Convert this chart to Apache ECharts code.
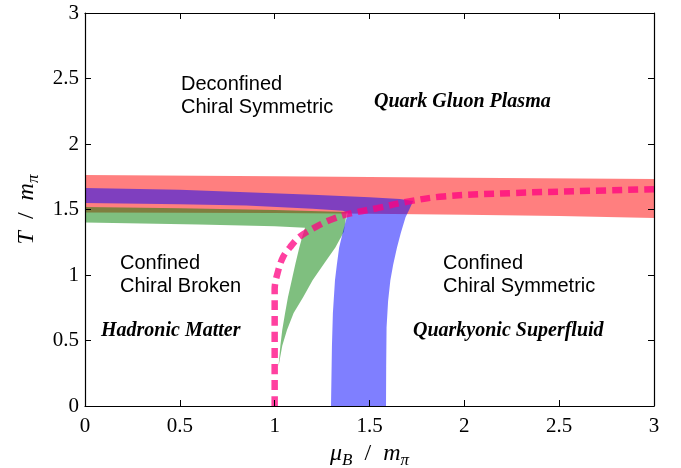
<!DOCTYPE html>
<html>
<head>
<meta charset="utf-8">
<script src="https://cdn.jsdelivr.net/npm/echarts@6/dist/echarts.min.js"></script>
<style>html,body{margin:0;padding:0;background:#fff;}#c{width:681px;height:468px;}</style>
</head>
<body>
<div id="c"></div>
<script>
// ---- data (mu_B/m_pi, T/m_pi) ----
var xTicks = [0, 0.5, 1, 1.5, 2, 2.5, 3];
var yTicks = [0, 0.5, 1, 1.5, 2, 2.5, 3];

// deconfinement band (red)
var redTop = [[0,1.763],[1,1.753],[2,1.743],[3,1.733]];
var redBottom = [[0,1.477],[1,1.473],[1.5,1.468],[2,1.46],[2.5,1.45],[3,1.435]];

// chiral band (green): outer edge (top then right side down to tip), inner edge (bottom then left side down to tip)
var greenOuter = [[0,1.52],[0.5,1.51],[1.0,1.497],[1.38,1.48],[1.365,1.33],[1.32,1.21],[1.26,1.085],[1.20,0.96],[1.15,0.83],[1.10,0.71],[1.065,0.58],[1.04,0.46],[1.02,0.30]];
var greenInner = [[0,1.40],[0.6,1.385],[1.0,1.372],[1.16,1.36],[1.145,1.29],[1.13,1.21],[1.11,1.09],[1.09,0.96],[1.07,0.83],[1.055,0.71],[1.04,0.58],[1.03,0.46],[1.02,0.30]];

// diquark condensation band (blue)
var blueOuter = [[0,1.665],[0.5,1.65],[0.85,1.632],[1.2,1.612],[1.5,1.593],[1.66,1.58],[1.73,1.565],[1.71,1.50],[1.69,1.44],[1.665,1.32],[1.645,1.21],[1.625,1.08],[1.61,0.96],[1.598,0.8],[1.59,0.6],[1.588,0.3],[1.587,0]];
var blueInner = [[0,1.55],[0.5,1.54],[0.85,1.53],[1.2,1.505],[1.36,1.49],[1.385,1.475],[1.38,1.44],[1.36,1.33],[1.34,1.21],[1.328,1.08],[1.318,0.96],[1.307,0.71],[1.302,0.46],[1.297,0]];

// dashed boundary (magenta)
var dashLine = [[1.0,0],[1.0,0.5],[1.0,0.89],[1.02,1.04],[1.045,1.14],[1.08,1.21],[1.13,1.29],[1.22,1.37],[1.31,1.43],[1.40,1.47],[1.54,1.51],[1.70,1.56],[1.89,1.60],[2.26,1.626],[2.6,1.64],[3.0,1.655]];

var regionLabels = [
  {text:'Deconfined\nChiral Symmetric', kind:'sans'},
  {text:'Quark Gluon Plasma', kind:'bold'},
  {text:'Confined\nChiral Broken', kind:'sans'},
  {text:'Hadronic Matter', kind:'bold'},
  {text:'Confined\nChiral Symmetric', kind:'sans'},
  {text:'Quarkyonic Superfluid', kind:'bold'}
];
var labelPos = [[181,73],[374,102],[120,252],[101,331],[443,252],[413,331]];

// ---- chart ----
function band(upper, lower, color, z) {
  var poly = upper.concat(lower.slice().reverse());
  return {
    type: 'custom', z: z, silent: true,
    data: poly, encode: {x: 0, y: 1},
    renderItem: function (params, api) {
      if (params.dataIndex !== 0) return null;
      return {type: 'polygon', shape: {points: poly.map(function (p) { return api.coord(p); })},
              style: {fill: color}};
    }
  };
}

var serif = '"Liberation Serif", "DejaVu Serif", serif';
var sans = '"Liberation Sans", Arial, sans-serif';
var rich = {
  i: {fontFamily: serif, fontStyle: 'italic', fontSize: 24, lineHeight: 30, color: '#000'},
  n: {fontFamily: serif, fontSize: 24, lineHeight: 30, color: '#000'},
  s: {fontFamily: serif, fontStyle: 'italic', fontSize: 17, lineHeight: 17, verticalAlign: 'bottom', color: '#000'}
};

function axisCommon(showLabel, margin) {
  return {
    min: 0, max: 3, interval: 0.5, z: 10,
    axisLine: {show: true, onZero: false, lineStyle: {color: '#000', width: 1.2}},
    axisTick: {show: true, inside: true, length: 6, lineStyle: {color: '#000', width: 1}},
    splitLine: {show: false},
    axisLabel: {show: showLabel, fontFamily: serif, fontSize: 21, color: '#000', margin: margin || 8}
  };
}

var xMain = Object.assign(axisCommon(true, 10), {type: 'value', position: 'bottom',
  name: '{i|μ}{s|B}{n|  /  }{i|m}{s|π}', nameLocation: 'middle', nameGap: 32,
  nameTextStyle: {rich: rich}});
var xTop = Object.assign(axisCommon(false), {type: 'value', position: 'top'});
var yMain = Object.assign(axisCommon(true, 6), {type: 'value', position: 'left',
  name: '{i|T}{n|  /  }{i|m}{s|π}', nameLocation: 'middle', nameGap: 28, nameRotate: 90,
  nameTextStyle: {rich: rich}});
var yRight = Object.assign(axisCommon(false), {type: 'value', position: 'right'});

var graphics = regionLabels.map(function (l, k) {
  var bold = l.kind === 'bold';
  return {
    type: 'text', left: labelPos[k][0], top: bold ? labelPos[k][1] - 12 : labelPos[k][1],
    z: 100, silent: true,
    style: {
      text: l.text, fill: '#000',
      font: bold ? ('italic bold 20px ' + serif) : ('20px ' + sans),
      lineHeight: bold ? 24 : 23
    }
  };
});

var chart = echarts.init(document.getElementById('c'), null, {renderer: 'canvas'});
chart.setOption({
  animation: false,
  backgroundColor: '#fff',
  grid: {left: 85, right: 27, top: 13, bottom: 62, containLabel: false, outerBoundsMode: 'none'},
  xAxis: [xMain, xTop],
  yAxis: [yMain, yRight],
  graphic: graphics,
  series: [
    band(redTop, redBottom, 'rgba(255,0,0,0.5)', 2),
    band(greenOuter, greenInner, 'rgba(0,128,0,0.5)', 3),
    band(blueOuter, blueInner, 'rgba(0,0,255,0.5)', 4),
    {type: 'line', z: 5, data: dashLine, smooth: 0.35, showSymbol: false, silent: true,
     lineStyle: {color: 'rgba(255,0,128,0.75)', width: 6.5, type: [10, 6], cap: 'butt'}}
  ]
});
</script>
</body>
</html>
